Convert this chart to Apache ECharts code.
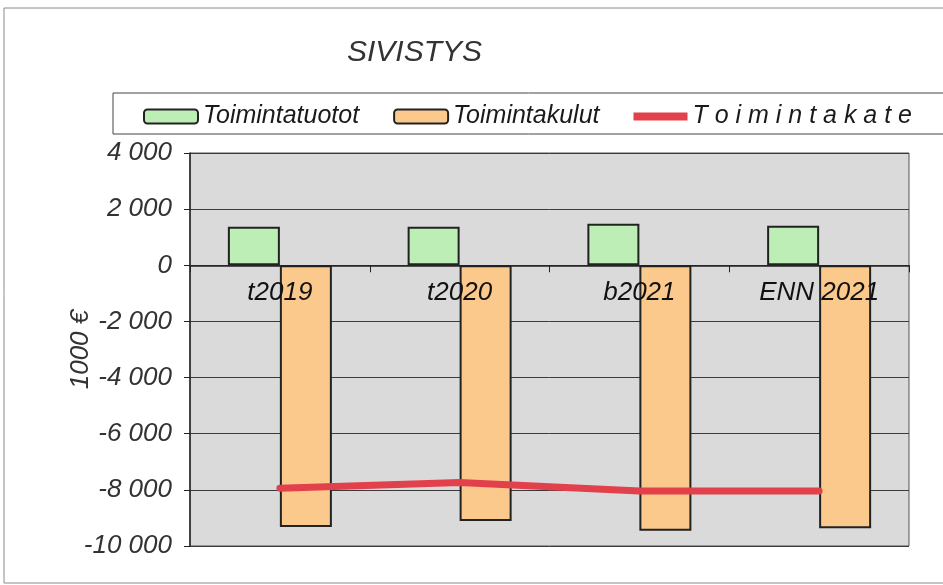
<!DOCTYPE html>
<html>
<head>
<meta charset="utf-8">
<script src="https://cdn.jsdelivr.net/npm/echarts@6/dist/echarts.min.js"></script>
<style>
  html, body { margin: 0; padding: 0; background: #fff; }
  #chart { width: 943px; height: 585px; }
</style>
</head>
<body>
<div id="chart"></div>
<script>
// kategoriat ja sarjat (1000 €)
const categories = ["t2019", "t2020", "b2021", "ENN 2021"];
const tuotot = [1370, 1370, 1480, 1410];
const kulut = [-9320, -9110, -9460, -9370];
const kate = [-7940, -7740, -8040, -8040];
const yTicks = { min: -10000, max: 4000, interval: 2000 };

const font = "'Liberation Sans', Arial, sans-serif";
const gridTop = 153, gridBottom = 39, chartH = 585;

// tuhaterotin välilyönnillä: -10000 -> "-10 000"
function fmt(v) {
  return String(v).replace(/\B(?=(\d{3})+(?!\d))/g, " ");
}

// x-akseli nollatasolle (offset grid-alareunasta)
const plotH = chartH - gridTop - gridBottom;
const zeroOffset = -plotH * (0 - yTicks.min) / (yTicks.max - yTicks.min);

const chart = echarts.init(document.getElementById("chart"), null, { renderer: "canvas" });

const option = {
  backgroundColor: "#fff",
  animation: false,
  title: {
    text: "SIVISTYS",
    left: 342,
    top: 33,
    textStyle: { fontFamily: font, fontStyle: "italic", fontWeight: "normal", fontSize: 30, color: "#333" }
  },
  graphic: [
    // ulkokehys
    { type: "rect", shape: { x: 4, y: 8, width: 960, height: 575 }, style: { fill: "none", stroke: "#8a8a8a", lineWidth: 1 }, z: -1 },
    // selitteen laatikko
    { type: "rect", shape: { x: 113, y: 93, width: 835, height: 41 }, style: { fill: "#fff", stroke: "#444", lineWidth: 1 }, z: -1 }
  ],
  legend: {
    left: 138,
    top: 99,
    itemWidth: 54,
    itemHeight: 14,
    itemGap: 34,
    textStyle: { fontFamily: font, fontStyle: "italic", fontSize: 25, color: "#1a1a1a" },
    formatter: function (name) {
      return name === "Toimintakate" ? name.split("").join(" ") : name;
    },
    data: [
      "Toimintatuotot",
      "Toimintakulut",
      {
        name: "Toimintakate",
        icon: "path://M0,0 L0.01,0 Z M0,3 H54 V11 H0 Z M0,14 L0.01,14 Z",
        itemStyle: { color: "#e2404b", borderWidth: 0 }
      }
    ]
  },
  grid: {
    left: 190,
    right: 34,
    top: gridTop,
    bottom: gridBottom,
    show: true,
    backgroundColor: "#dadada",
    borderColor: "#555",
    borderWidth: 1
  },
  xAxis: {
    type: "category",
    data: categories,
    position: "bottom",
    offset: zeroOffset,
    axisLine: { onZero: false, lineStyle: { color: "#222", width: 1.5 } },
    axisTick: { show: true, length: 7, inside: false, lineStyle: { color: "#222" } },
    axisLabel: {
      margin: 14,
      fontFamily: font,
      fontStyle: "italic",
      fontSize: 26,
      color: "#111"
    },
    splitLine: { show: false },
    z: 5
  },
  yAxis: {
    type: "value",
    min: yTicks.min,
    max: yTicks.max,
    interval: yTicks.interval,
    name: "1000 €",
    nameLocation: "middle",
    nameGap: 96,
    nameMoveOverlap: false,
    nameRotate: 90,
    nameTextStyle: { fontFamily: font, fontStyle: "italic", fontSize: 26, color: "#333" },
    axisLine: { show: true, lineStyle: { color: "#222", width: 1.5 } },
    axisTick: { show: true, length: 6, lineStyle: { color: "#222" } },
    axisLabel: {
      margin: 18,
      fontFamily: font,
      fontStyle: "italic",
      fontSize: 26,
      color: "#333",
      formatter: fmt
    },
    splitLine: { show: true, lineStyle: { color: "#3a3a3a", width: 1 } }
  },
  series: [
    {
      name: "Toimintatuotot",
      type: "bar",
      barWidth: 52,
      barGap: "0%",
      itemStyle: { color: "#bdeeb6", borderColor: "#222", borderWidth: 2 },
      data: tuotot
    },
    {
      name: "Toimintakulut",
      type: "bar",
      barWidth: 52,
      barGap: "0%",
      itemStyle: { color: "#fcc98c", borderColor: "#222", borderWidth: 2 },
      data: kulut
    },
    {
      name: "Toimintakate",
      type: "line",
      symbol: "none",
      smooth: false,
      lineStyle: { color: "#e2404b", width: 7, cap: "round" },
      itemStyle: { color: "#e2404b" },
      data: kate,
      z: 10
    }
  ]
};

chart.setOption(option);
</script>
</body>
</html>
